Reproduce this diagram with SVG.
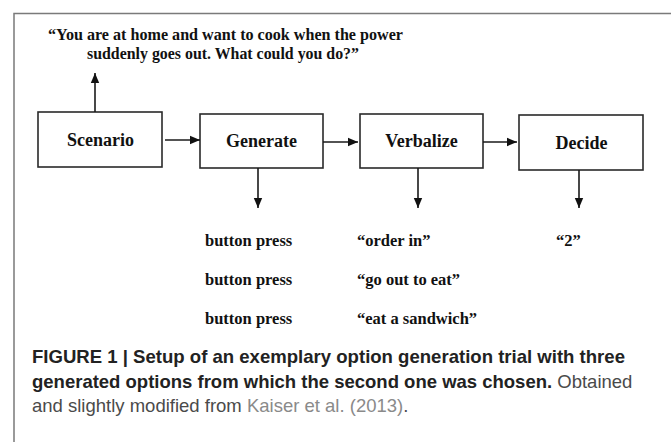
<svg xmlns="http://www.w3.org/2000/svg" width="671" height="442" viewBox="0 0 671 442">
  <defs>
    <style>
      .frame { fill: none; stroke: #7a7a7a; stroke-width: 1.5; }
      .box { fill: #ffffff; stroke: #2a2a2a; stroke-width: 1.6; }
      .link { fill: none; stroke: #1a1a1a; stroke-width: 1.6; }
      .serif { font-family: "Liberation Serif", "Times New Roman", serif; font-weight: bold; fill: #111111; }
      .label { font-size: 18px; text-anchor: middle; }
      .quote { font-size: 17px; }
      .item { font-size: 16.5px; }
      .cap { font-family: "Liberation Sans", Arial, Helvetica, sans-serif; font-size: 18.5px; }
      .capb { font-weight: bold; fill: #222222; }
      .capn { fill: #4a4a4a; }
      .capl { fill: #8a8a8a; }
    </style>
    <marker id="head" viewBox="0 0 10 10" refX="10" refY="5" markerWidth="10" markerHeight="10" markerUnits="userSpaceOnUse" orient="auto">
      <path d="M0,0.8 L10,5 L0,9.2 Z" fill="#111111"/>
    </marker>
  </defs>

  <rect width="671" height="442" fill="#ffffff"/>

  <!-- outer frame, open to the right and bottom -->
  <path class="frame" d="M14,460 L14,13.5 L690,13.5"/>

  <!-- scenario prompt -->
  <g id="prompt">
    <text class="serif quote" x="48" y="40" textLength="355" lengthAdjust="spacingAndGlyphs">“You are at home and want to cook when the power</text>
    <text class="serif quote" x="87" y="59" textLength="272" lengthAdjust="spacingAndGlyphs">suddenly goes out. What could you do?”</text>
  </g>

  <!-- process steps -->
  <g id="scenario">
    <rect class="box" x="38" y="112" width="124" height="55"/>
    <text class="serif label" x="100.5" y="145.5">Scenario</text>
  </g>
  <g id="generate">
    <rect class="box" x="200" y="114" width="123" height="54"/>
    <text class="serif label" x="261.5" y="147">Generate</text>
  </g>
  <g id="verbalize">
    <rect class="box" x="360" y="114" width="123" height="54"/>
    <text class="serif label" x="421.5" y="147">Verbalize</text>
  </g>
  <g id="decide">
    <rect class="box" x="519" y="115" width="124" height="55"/>
    <text class="serif label" x="581.5" y="148.5">Decide</text>
  </g>

  <!-- connectors -->
  <g id="connectors">
    <line class="link" x1="95" y1="112" x2="95" y2="73" marker-end="url(#head)"/>
    <line class="link" x1="165" y1="140" x2="200" y2="140" marker-end="url(#head)"/>
    <line class="link" x1="323" y1="142" x2="358" y2="142" marker-end="url(#head)"/>
    <line class="link" x1="483" y1="142" x2="517" y2="142" marker-end="url(#head)"/>
    <line class="link" x1="258" y1="168" x2="258" y2="208" marker-end="url(#head)"/>
    <line class="link" x1="418" y1="168" x2="418" y2="208" marker-end="url(#head)"/>
    <line class="link" x1="579" y1="170" x2="579" y2="208" marker-end="url(#head)"/>
  </g>

  <!-- outputs of each step -->
  <g id="outputs">
    <text class="serif item" x="205" y="246">button press</text>
    <text class="serif item" x="205" y="285">button press</text>
    <text class="serif item" x="205" y="324">button press</text>
    <text class="serif item" x="357" y="246">“order in”</text>
    <text class="serif item" x="357" y="285">“go out to eat”</text>
    <text class="serif item" x="357" y="324">“eat a sandwich”</text>
    <text class="serif item" x="556" y="246">“2”</text>
  </g>

  <!-- caption -->
  <g id="caption" class="cap">
    <text class="capb" x="32" y="363" textLength="593" lengthAdjust="spacingAndGlyphs">FIGURE 1 | Setup of an exemplary option generation trial with three</text>
    <text x="32" y="388"><tspan class="capb">generated options from which the second one was chosen.</tspan><tspan class="capn"> Obtained</tspan></text>
    <text x="32" y="412"><tspan class="capn">and slightly modified from </tspan><tspan class="capl">Kaiser et al. (2013)</tspan><tspan class="capn">.</tspan></text>
  </g>
</svg>
